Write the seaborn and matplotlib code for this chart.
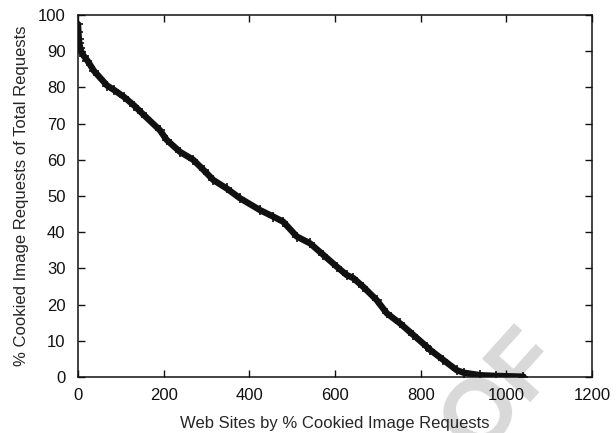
import matplotlib
matplotlib.use("Agg")
import matplotlib.pyplot as plt
import seaborn as sns
import pandas as pd

# Data
sites = [0, 1, 2, 3, 5, 8, 14, 22, 37, 68, 84, 107, 131, 150, 191, 207, 238, 269,
         293, 316, 347, 378, 425, 456, 479, 511, 542, 573, 604, 627, 643, 666, 697,
         721, 752, 783, 814, 822, 853, 884, 900, 939, 977, 1040]
pct = [97.5, 95.2, 93.4, 92.2, 91, 89.7, 88.6, 87.4, 84.6, 80.5, 79.3, 77.4, 75,
       72.8, 68.2, 65.5, 62.2, 60, 57.2, 54.4, 52.1, 49.4, 46.1, 44.3, 42.9, 38.8,
       36.9, 33.7, 30.5, 28.2, 27.3, 24.9, 21.3, 17.6, 14.8, 11.6, 8.4, 7.5, 4.7,
       1.9, 1.2, 0.5, 0.3, 0.1]
xticks = [0, 200, 400, 600, 800, 1000, 1200]
yticks = [0, 10, 20, 30, 40, 50, 60, 70, 80, 90, 100]
xlabel = "Web Sites by % Cookied Image Requests"
ylabel = "% Cookied Image Requests of Total Requests"

df = pd.DataFrame({"site": sites, "pct": pct})

sns.set_style("ticks")
plt.rcParams["font.family"] = ["Liberation Sans", "DejaVu Sans"]

fig = plt.figure(figsize=(6.16, 4.33), dpi=100)
ax = fig.add_axes([78 / 616, 1 - 377 / 433, (592 - 78) / 616, (377 - 15) / 433])
ax.set_zorder(2)
ax.set_facecolor("none")

# watermark (behind the axes)
fig.text(0.815, 0.092, "OF", rotation=48, ha="center", va="center",
         fontsize=68, fontweight="bold", color="#d9d9d9", zorder=0)

sns.lineplot(data=df, x="site", y="pct", ax=ax, color="#111111", linewidth=4.6,
             marker="+", markersize=7, markeredgewidth=1.2,
             markeredgecolor="#111111", zorder=3)

ax.set_xlim(0, 1200)
ax.set_ylim(0, 100)
ax.set_xticks(xticks)
ax.set_yticks(yticks)
ax.tick_params(direction="in", length=5, width=1, top=True, right=True,
               labelsize=12, colors="#111111")
ax.tick_params(axis="y", pad=9)
ax.tick_params(axis="x", pad=8)
for s in ax.spines.values():
    s.set_linewidth(1.1)
    s.set_color("#111111")
    s.set_visible(True)
ax.set_xlabel(xlabel, fontsize=12, labelpad=9)
ax.set_ylabel(ylabel, fontsize=12, labelpad=6)

fig.savefig("out.png", dpi=100)
